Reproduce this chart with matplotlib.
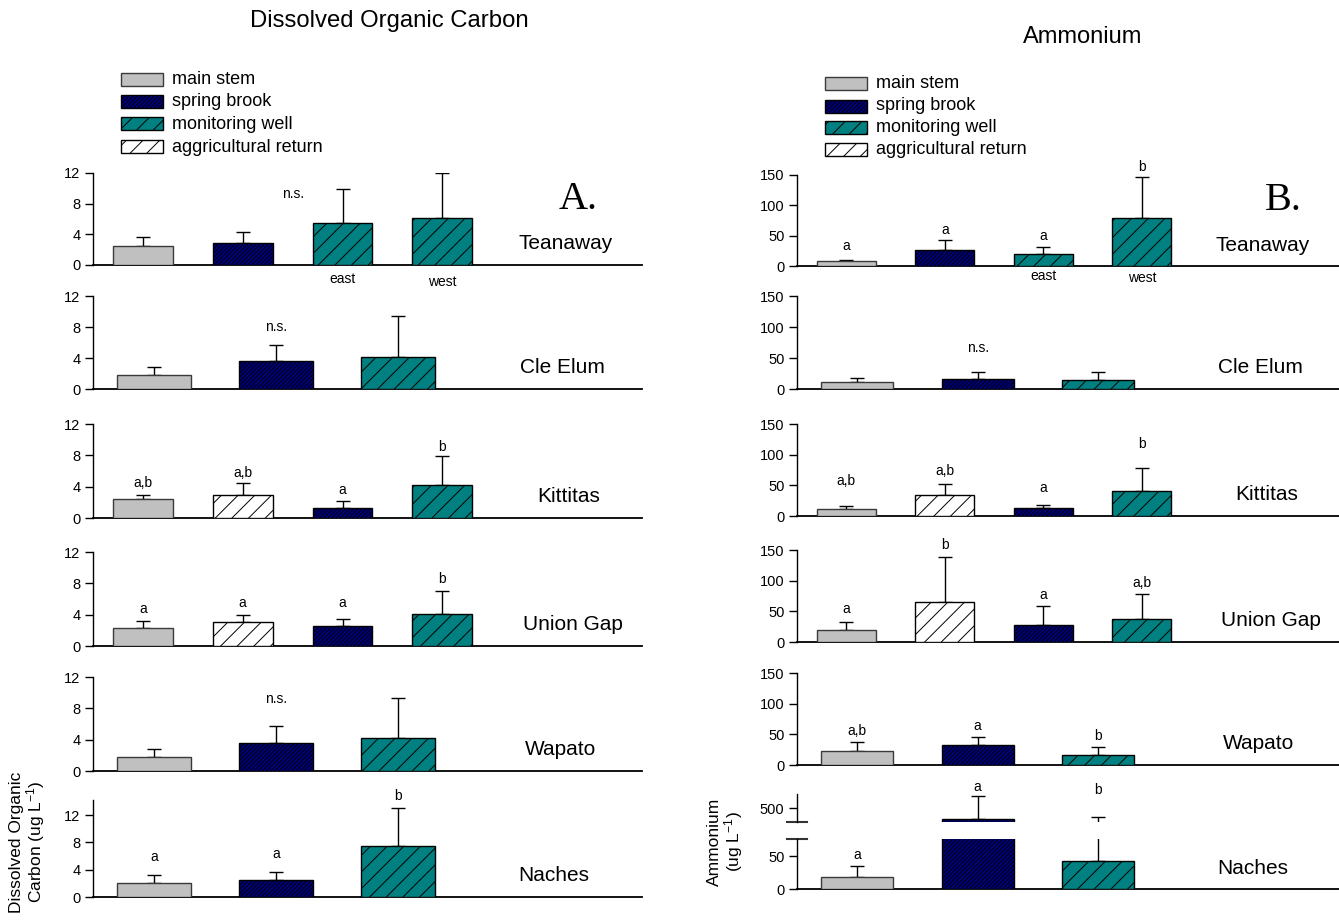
import matplotlib
matplotlib.use("Agg")
import matplotlib.pyplot as plt
from matplotlib.patches import Rectangle
import numpy as np

plt.rcParams['font.family'] = ['Liberation Sans', 'DejaVu Sans']
plt.rcParams['mathtext.fontset'] = 'custom'
plt.rcParams['mathtext.rm'] = 'Liberation Sans'
plt.rcParams['mathtext.default'] = 'regular'
plt.rcParams['hatch.linewidth'] = 0.7

# ---------------------------------------------------------------- data
sites = ["Teanaway", "Cle Elum", "Kittitas", "Union Gap", "Wapato", "Naches"]
legend_labels = ["main stem", "spring brook", "monitoring well", "aggricultural return"]
legend_keys = ["main", "spring", "well", "agri"]

# sample type of each bar, per site
site_types = [
    ["main", "spring", "well", "well"],
    ["main", "spring", "well"],
    ["main", "agri", "spring", "well"],
    ["main", "agri", "spring", "well"],
    ["main", "spring", "well"],
    ["main", "spring", "well"],
]

# Dissolved organic carbon: means and upper error
doc_mean = [
    [2.5, 2.9, 5.5, 6.1],
    [1.8, 3.6, 4.1],
    [2.4, 3.0, 1.3, 4.2],
    [2.3, 3.1, 2.5, 4.1],
    [1.8, 3.6, 4.2],
    [2.1, 2.5, 7.4],
]
doc_err = [
    [1.2, 1.4, 4.4, 5.9],
    [1.0, 2.1, 5.3],
    [0.5, 1.5, 0.9, 3.7],
    [0.9, 0.8, 1.0, 2.9],
    [1.0, 2.1, 5.1],
    [1.1, 1.1, 5.7],
]
doc_groups = ["n.s.", "n.s.", ["a,b", "a,b", "a", "b"], ["a", "a", "a", "b"],
              "n.s.", ["a", "a", "b"]]
doc_group_y = [9.3, 8.0, [4.5, 5.7, 3.6, 9.1], [4.7, 5.5, 5.5, 8.6], 9.2, [5.9, 6.3, 14.8]]

# Ammonium: means and upper error
nh4_mean = [
    [8, 27, 19, 79],
    [11, 16, 15],
    [12, 35, 13, 40],
    [20, 65, 28, 37],
    [23, 33, 16],
    [19, 421, 42],
]
nh4_err = [
    [2, 16, 13, 67],
    [6, 11, 12],
    [4, 17, 5, 38],
    [13, 74, 30, 42],
    [14, 12, 13],
    [16, 165, 394],
]
nh4_groups = [["a", "a", "a", "b"], "n.s.", ["a,b", "a,b", "a", "b"],
              ["a", "b", "a", "a,b"], ["a,b", "a", "b"], ["a", "a", "b"]]
nh4_group_y = [[33, 59, 49, 163], 66, [57, 73, 46, 117], [54, 158, 77, 96],
               [55, 64, 47], [52, 650, 629]]

well_names = ["east", "west"]

# ---------------------------------------------------------------- styles
STYLE = {
    "main": dict(facecolor="#c0c0c0", edgecolor="#3a3a3a", hatch=None),
    "spring": dict(facecolor="#00007e", edgecolor="black", hatch="////////"),
    "well": dict(facecolor="#008080", edgecolor="black", hatch="//"),
    "agri": dict(facecolor="white", edgecolor="black", hatch="//"),
}

W, H = 1339, 922
fig = plt.figure(figsize=(W / 100, H / 100), dpi=100)


def rect(x0, x1, yb, yt):
    return [x0 / W, 1 - yb / H, (x1 - x0) / W, (yb - yt) / H]


def style_axis(ax, ticks, ylim, nbars):
    ax.set_ylim(*ylim)
    ax.set_xlim(0.5, nbars + 2)
    ax.set_yticks(ticks)
    ax.set_xticks([])
    for s in ("top", "right"):
        ax.spines[s].set_visible(False)
    ax.spines["left"].set_linewidth(1.0)
    ax.spines["bottom"].set_linewidth(1.3)
    ax.tick_params(axis="y", direction="out", length=6, width=1, labelsize=10.5, pad=3)
    ax.patch.set_alpha(0)


def draw_bars(ax, types, means, errs):
    x = np.arange(1, len(means) + 1)
    for xi, t, m in zip(x, types, means):
        st = STYLE[t]
        ax.bar(xi, m, width=0.6, color=st["facecolor"], edgecolor=st["edgecolor"],
               hatch=st["hatch"], linewidth=1.0, zorder=3)
    ax.errorbar(x, means, yerr=[np.zeros(len(errs)), errs], fmt="none",
                ecolor="black", elinewidth=1, capsize=4.7, capthick=1, zorder=2)
    return x


def draw_groups(ax, x, groups, gy, fs=10):
    if isinstance(groups, str):
        ax.text((len(x) + 1) / 2, gy, groups, ha="center", va="center",
                fontsize=fs, clip_on=False)
    else:
        for xi, g, y in zip(x, groups, gy):
            ax.text(xi, y, g, ha="center", va="center", fontsize=fs, clip_on=False)


site_label_x = [0.86, 0.855, 0.867, 0.874, 0.852, 0.84]
site_label_y = 0.23

# ---------------------------------------------------------------- left column
left_rows = [(265, 173), (389, 296), (518, 424), (646, 552), (771, 677), (897, 800)]
for i, (yb, yt) in enumerate(left_rows):
    ax = fig.add_axes(rect(93, 642, yb, yt))
    n = len(doc_mean[i])
    top = 14.2 if i == 5 else 12
    style_axis(ax, [0, 4, 8, 12], (0, top), n)
    x = draw_bars(ax, site_types[i], doc_mean[i], doc_err[i])
    draw_groups(ax, x, doc_groups[i], doc_group_y[i])
    ax.text(site_label_x[i], site_label_y if i != 5 else 0.22, sites[i],
            transform=ax.transAxes, ha="center", va="center", fontsize=15)
    if i == 0:
        ax.text(0.883, 0.71, "A.", transform=ax.transAxes, ha="center", va="center",
                fontsize=29, family="Liberation Serif")
        for xi, nm, yy in zip(x[2:], well_names, (-0.15, -0.18)):
            ax.text(xi, yy, nm, transform=ax.get_xaxis_transform(), ha="center",
                    va="center", fontsize=10)

# ---------------------------------------------------------------- right column
right_rows = [(266, 175), (389, 296), (516, 424), (642, 550), (765, 673)]
for i, (yb, yt) in enumerate(right_rows):
    ax = fig.add_axes(rect(797, 1339, yb, yt))
    n = len(nh4_mean[i])
    style_axis(ax, [0, 50, 100, 150], (0, 150), n)
    x = draw_bars(ax, site_types[i], nh4_mean[i], nh4_err[i])
    draw_groups(ax, x, nh4_groups[i], nh4_group_y[i])
    ax.text(site_label_x[i], site_label_y, sites[i], transform=ax.transAxes,
            ha="center", va="center", fontsize=15)
    if i == 0:
        ax.text(0.897, 0.725, "B.", transform=ax.transAxes, ha="center", va="center",
                fontsize=29, family="Liberation Serif")
        for xi, nm, yy in zip(x[2:], well_names, (-0.11, -0.13)):
            ax.text(xi, yy, nm, transform=ax.get_xaxis_transform(), ha="center",
                    va="center", fontsize=10)

# Naches ammonium on a broken axis
lower_lim = (0, 76)
upper_lim = (400, 600)
n = len(nh4_mean[5])
ax_lo = fig.add_axes(rect(797, 1339, 889, 839))
ax_hi = fig.add_axes(rect(797, 1339, 822, 794))
style_axis(ax_lo, [0, 50], lower_lim, n)
style_axis(ax_hi, [500], upper_lim, n)
ax_hi.spines["bottom"].set_visible(False)
x = draw_bars(ax_lo, site_types[5], nh4_mean[5], nh4_err[5])
draw_bars(ax_hi, site_types[5], nh4_mean[5], nh4_err[5])
for xi, g, y in zip(x, nh4_groups[5], nh4_group_y[5]):
    target = ax_lo if y <= lower_lim[1] else ax_hi
    target.text(xi, y, g, ha="center", va="center", fontsize=10, clip_on=False)
for a, yy in ((ax_hi, 0.0), (ax_lo, 1.0)):
    a.plot([-0.018, 0.018], [yy, yy], transform=a.transAxes, color="#333333",
           lw=1.5, clip_on=False)
ax_lo.text(site_label_x[5], 0.42, sites[5], transform=ax_lo.transAxes,
           ha="center", va="center", fontsize=15)

# ---------------------------------------------------------------- titles & axis labels
fig.text(389 / W, 1 - 21 / H, "Dissolved Organic Carbon", ha="center", va="center",
         fontsize=17.2)
fig.text(1083 / W, 1 - 37 / H, "Ammonium", ha="center", va="center", fontsize=17)
fig.text(28 / W, 1 - 842 / H, "Dissolved Organic\nCarbon (ug L$^{-1}$)", rotation=90,
         ha="center", va="center", multialignment="center", fontsize=12.5,
         linespacing=1.0)
fig.text(726 / W, 1 - 842 / H, "Ammonium\n(ug L$^{-1}$)", rotation=90,
         ha="center", va="center", multialignment="center", fontsize=12.5,
         linespacing=1.0)

# ---------------------------------------------------------------- legends
def draw_legend(x0, row_centers):
    for key, label, yc in zip(legend_keys, legend_labels, row_centers):
        st = STYLE[key]
        fig.add_artist(Rectangle((x0 / W, 1 - (yc + 6.5) / H), 42 / W, 13 / H,
                                 transform=fig.transFigure, facecolor=st["facecolor"],
                                 edgecolor=st["edgecolor"], hatch=st["hatch"],
                                 linewidth=1.0))
        fig.text((x0 + 51) / W, 1 - yc / H, label, ha="left", va="center", fontsize=13)


draw_legend(121, [80, 102, 124, 147])
draw_legend(825, [84, 106, 128, 150])

fig.savefig("out.png", dpi=100)
